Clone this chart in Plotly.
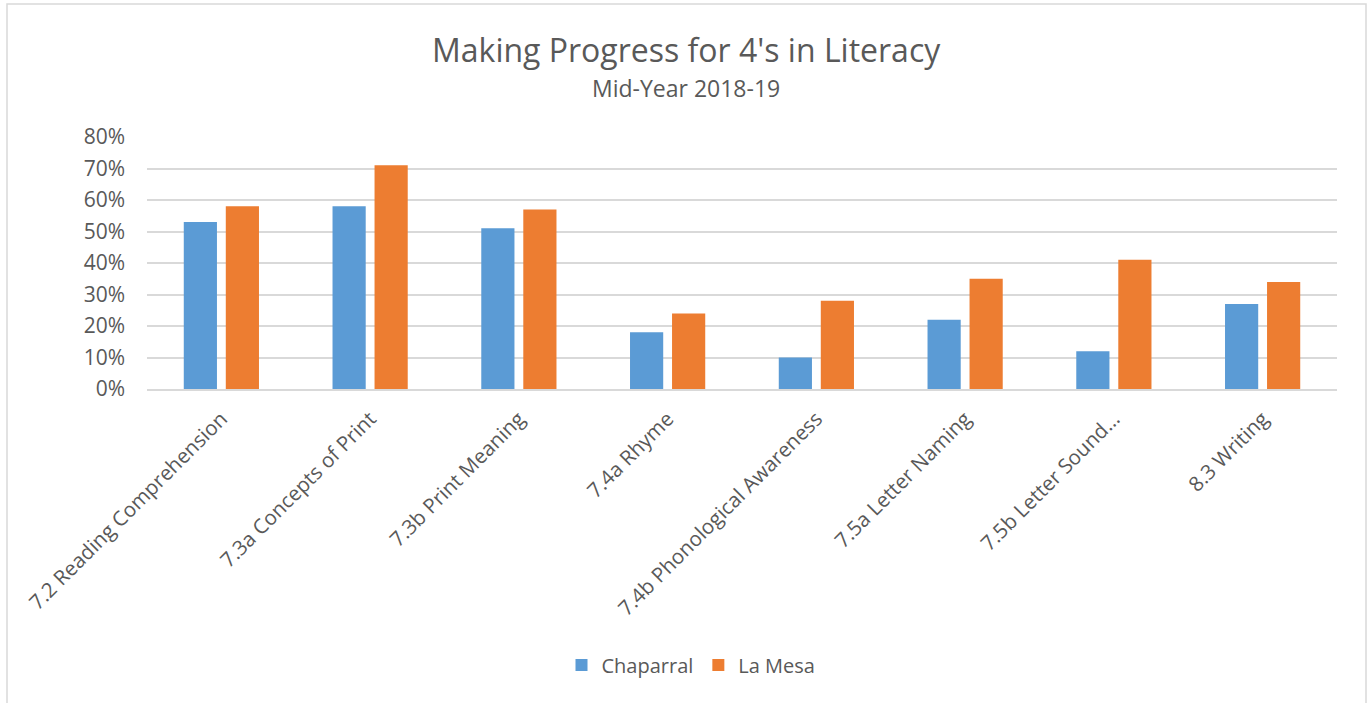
import plotly.graph_objects as go

categories = [
    "7.2 Reading Comprehension",
    "7.3a Concepts of Print",
    "7.3b Print Meaning",
    "7.4a Rhyme",
    "7.4b Phonological Awareness",
    "7.5a Letter Naming",
    "7.5b Letter Sound...",
    "8.3 Writing",
]
chaparral = [0.53, 0.58, 0.51, 0.18, 0.10, 0.22, 0.12, 0.27]
la_mesa = [0.58, 0.71, 0.57, 0.24, 0.28, 0.35, 0.41, 0.34]
y_ticks = [0, 0.1, 0.2, 0.3, 0.4, 0.5, 0.6, 0.7, 0.8]

TXT = "#595959"
FONT = "Open Sans"

fig = go.Figure()
fig.add_trace(go.Bar(name="Chaparral", x=categories, y=chaparral,
                     marker=dict(color="#5B9BD5", line=dict(width=0))))
fig.add_trace(go.Bar(name="La Mesa", x=categories, y=la_mesa,
                     marker=dict(color="#ED7D31", line=dict(width=0))))

L, R, T, B = 147, 34, 137, 314
W, H = 1371, 703
pw = W - L - R
ph = H - T - B

def px_to_paper_x(px):
    return (px - L) / pw

def px_to_paper_y(py):
    return (H - B - py) / ph

fig.update_layout(
    width=W, height=H,
    margin=dict(l=L, r=R, t=T, b=B, autoexpand=False),
    paper_bgcolor="white", plot_bgcolor="white",
    font=dict(family=FONT, color=TXT),
    barmode="group", bargap=0.435, bargroupgap=0.21,
    showlegend=True,
    legend=dict(orientation="h", x=px_to_paper_x(691), xanchor="center",
                y=px_to_paper_y(665), yanchor="middle",
                font=dict(size=20, color=TXT, family=FONT),
                itemwidth=30, traceorder="normal"),
    xaxis=dict(tickangle=-45, tickfont=dict(size=20.5, color=TXT, family=FONT),
               showline=True, linecolor="#D9D9D9", linewidth=1.5,
               ticks="", showgrid=False, ticklabelstandoff=8),
    yaxis=dict(range=[0, 0.8], tickvals=y_ticks, tickformat=".0%",
               tickfont=dict(size=21, color=TXT, family=FONT),
               showgrid=True, gridcolor="#D9D9D9", gridwidth=1.5,
               zeroline=False, showline=False, ticks="", ticklabelstandoff=21),
    annotations=[
        dict(text="Making Progress for 4's in Literacy", xref="paper", yref="paper",
             x=px_to_paper_x(686), y=px_to_paper_y(50), xanchor="center", yanchor="middle",
             showarrow=False, font=dict(size=32, color=TXT, family=FONT)),
        dict(text="Mid-Year 2018-19", xref="paper", yref="paper",
             x=px_to_paper_x(686), y=px_to_paper_y(88), xanchor="center", yanchor="middle",
             showarrow=False, font=dict(size=23, color=TXT, family=FONT)),
    ],
    shapes=[
        dict(type="rect", xref="paper", yref="paper",
             x0=px_to_paper_x(7), x1=px_to_paper_x(1366),
             y0=px_to_paper_y(720), y1=px_to_paper_y(4),
             line=dict(color="#D9D9D9", width=1.5), fillcolor="rgba(0,0,0,0)",
             layer="below"),
    ],
)

fig.write_html("out.html", config={"displayModeBar": False},
               post_script="document.body.style.margin='0';document.body.style.overflow='hidden';")
